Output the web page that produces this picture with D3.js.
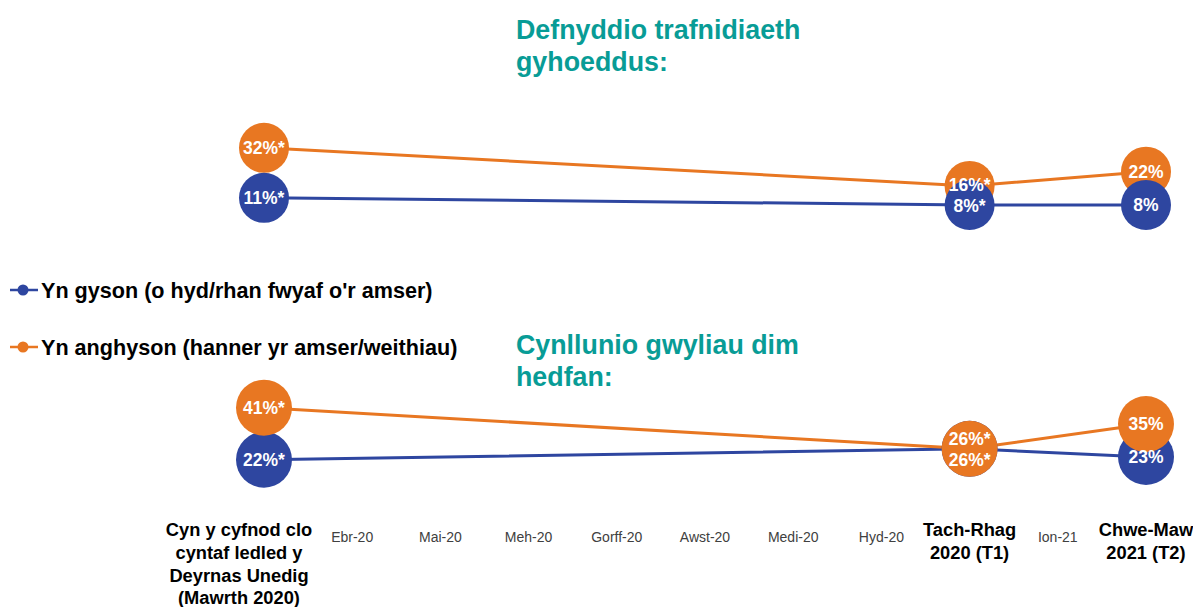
<!DOCTYPE html>
<html>
<head>
<meta charset="utf-8">
<script src="https://cdn.jsdelivr.net/npm/d3@7"></script>
<style>
  html, body { margin: 0; padding: 0; background: #ffffff; }
  svg { display: block; font-family: "Liberation Sans", Arial, sans-serif; }
</style>
</head>
<body>
<svg id="chart" width="1193" height="607"></svg>
<script>
// ---------- DATA ----------
const categories = ["Mawrth 2020", "Ebr-20", "Mai-20", "Meh-20", "Gorff-20", "Awst-20",
                    "Medi-20", "Hyd-20", "Tach-Rhag 2020 (T1)", "Ion-21", "Chwe-Maw 2021 (T2)"];
const categoryLabels = [
  ["Cyn y cyfnod clo", "cyntaf ledled y", "Deyrnas Unedig", "(Mawrth 2020)"],
  ["Ebr-20"], ["Mai-20"], ["Meh-20"], ["Gorff-20"], ["Awst-20"], ["Medi-20"], ["Hyd-20"],
  ["Tach-Rhag", "2020 (T1)"], ["Ion-21"], ["Chwe-Maw", "2021 (T2)"]
];
const majorCategories = ["Mawrth 2020", "Tach-Rhag 2020 (T1)", "Chwe-Maw 2021 (T2)"];

const seriesNames = ["Yn gyson (o hyd/rhan fwyaf o'r amser)", "Yn anghyson (hanner yr amser/weithiau)"];

// Panel 1: Defnyddio trafnidiaeth gyhoeddus
const transportConsistent   = [11, 8, 8];
const transportInconsistent = [32, 16, 22];
// Panel 2: Cynllunio gwyliau dim hedfan
const holidayConsistent     = [22, 26, 23];
const holidayInconsistent   = [41, 26, 35];
// significance marker per survey wave
const significant = [true, true, false];

const panelTitles = [["Defnyddio trafnidiaeth", "gyhoeddus:"], ["Cynllunio gwyliau dim", "hedfan:"]];

// ---------- STYLE ----------
const colors = { consistent: "#2E46A0", inconsistent: "#E87722" };
const teal = "#089C96";

const svg = d3.select("#chart");

const x = d3.scalePoint().domain(categories).range([264, 1146]);

const panels = [
  { title: panelTitles[0], titleY: 39, cons: transportConsistent, incons: transportInconsistent,
    y: d3.scaleLinear().domain([0, 40]).range([224, 128.8]), r: 25, topSeries: "consistent" },
  { title: panelTitles[1], titleY: 354, cons: holidayConsistent, incons: holidayInconsistent,
    y: d3.scaleLinear().domain([0, 45]).range([520, 396.7]), r: 28, topSeries: "inconsistent" }
];

panels.forEach(p => {
  // title
  const t = svg.append("text")
    .attr("x", 516).attr("y", p.titleY)
    .attr("fill", teal).attr("font-weight", "bold").attr("font-size", 26.8);
  p.title.forEach((ln, i) => t.append("tspan").attr("x", 516).attr("dy", i === 0 ? 0 : 32).text(ln));

  const mk = (vals, key) => vals.map((v, i) => ({ cat: majorCategories[i], v, key, sig: significant[i] }));
  const cons = mk(p.cons, "consistent");
  const incons = mk(p.incons, "inconsistent");

  const line = d3.line().x(d => x(d.cat)).y(d => p.y(d.v));
  [cons, incons].forEach(s => {
    svg.append("path").datum(s)
      .attr("d", line).attr("fill", "none")
      .attr("stroke", colors[s[0].key]).attr("stroke-width", 3);
  });

  const order = p.topSeries === "consistent" ? [incons, cons] : [cons, incons];
  order.forEach(s => {
    svg.selectAll(null).data(s).enter().append("circle")
      .attr("cx", d => x(d.cat)).attr("cy", d => p.y(d.v)).attr("r", p.r)
      .attr("fill", d => colors[d.key]);
  });

  // label positions: push apart when overlapping
  const labels = [];
  cons.forEach((c, i) => {
    const o = incons[i];
    let yc = p.y(c.v), yo = p.y(o.v);
    if (Math.abs(yc - yo) < 21) {
      const mid = (yc + yo) / 2;
      yo = mid - 10.5; yc = mid + 10.5;
    }
    labels.push({ d: o, ly: yo });
    labels.push({ d: c, ly: yc });
  });
  svg.selectAll(null).data(labels).enter().append("text")
    .attr("x", l => x(l.d.cat)).attr("y", l => l.ly)
    .attr("dy", "0.36em")
    .attr("text-anchor", "middle").attr("fill", "#ffffff")
    .attr("font-weight", "bold").attr("font-size", 17.5)
    .text(l => l.d.v + "%" + (l.d.sig ? "*" : ""));
});

// ---------- X AXIS LABELS ----------
categories.forEach((c, i) => {
  const major = majorCategories.includes(c);
  const lines = categoryLabels[i];
  const cx = x(c) + (i === 0 ? -25 : 0);
  const t = svg.append("text")
    .attr("text-anchor", "middle")
    .attr("y", major ? 536 : 542)
    .attr("fill", major ? "#000000" : "#404040")
    .attr("font-weight", major ? "bold" : "normal")
    .attr("font-size", major ? 18.3 : 14);
  lines.forEach((ln, j) => t.append("tspan").attr("x", cx).attr("dy", j === 0 ? 0 : 22.8).text(ln));
});

// ---------- LEGEND ----------
const legendKeys = ["consistent", "inconsistent"];
const legendY = [290, 347];
legendKeys.forEach((k, i) => {
  const g = svg.append("g").attr("transform", `translate(0,${legendY[i]})`);
  g.append("line").attr("x1", 10).attr("x2", 38).attr("y1", 0).attr("y2", 0)
    .attr("stroke", colors[k]).attr("stroke-width", 2.5);
  g.append("circle").attr("cx", 23).attr("cy", 0).attr("r", 5.5).attr("fill", colors[k]);
  g.append("text").attr("x", 41).attr("y", 0).attr("dy", "0.36em")
    .attr("font-weight", "bold").attr("font-size", 21.6).attr("fill", "#000")
    .text(seriesNames[i]);
});
</script>
</body>
</html>
